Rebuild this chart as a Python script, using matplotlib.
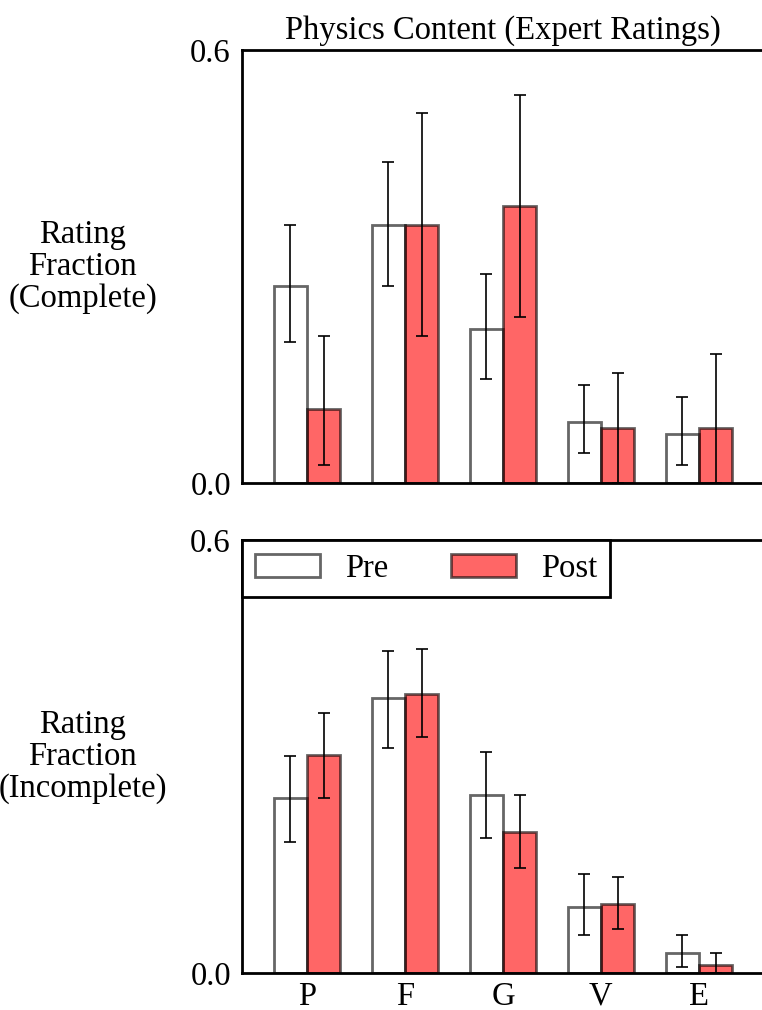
import numpy as np
import matplotlib
matplotlib.use("Agg")
import matplotlib.pyplot as plt

plt.rcParams['font.family'] = ['Liberation Serif', 'DejaVu Serif']
plt.rcParams['font.size'] = 23.5

categories = ["P", "F", "G", "V", "E"]

# complete responses: fraction, lower / upper bound of the interval
complete_pre = [0.273, 0.358, 0.213, 0.085, 0.068]
complete_pre_lo = [0.196, 0.273, 0.144, 0.042, 0.025]
complete_pre_hi = [0.358, 0.445, 0.290, 0.136, 0.119]
complete_post = [0.102, 0.358, 0.384, 0.076, 0.076]
complete_post_lo = [0.025, 0.204, 0.230, 0.0, 0.0]
complete_post_hi = [0.204, 0.513, 0.538, 0.153, 0.179]

# incomplete responses
incomplete_pre = [0.242, 0.381, 0.247, 0.092, 0.028]
incomplete_pre_lo = [0.182, 0.312, 0.187, 0.053, 0.008]
incomplete_pre_hi = [0.301, 0.446, 0.306, 0.137, 0.053]
incomplete_post = [0.302, 0.386, 0.196, 0.096, 0.011]
incomplete_post_lo = [0.243, 0.327, 0.146, 0.061, 0.0]
incomplete_post_hi = [0.361, 0.449, 0.247, 0.133, 0.028]

width = 0.34
x = np.arange(len(categories))


def draw_bars(ax, vals, lo, hi, pos, color, label):
    vals = np.array(vals)
    yerr = [vals - np.array(lo), np.array(hi) - vals]
    ax.bar(pos, vals, width, color=color, edgecolor='black', linewidth=2,
           alpha=0.6, label=label)
    ax.errorbar(pos, vals, yerr=yerr, fmt='none', ecolor='black',
                elinewidth=1.2, capsize=4.5, capthick=1.2)


def style_axes(ax, ylabel):
    ax.set_xlim(-0.665, 4.665)
    ax.set_ylim(0, 0.6)
    ax.set_yticks([0.0, 0.6])
    ax.set_yticklabels(["0.0", "0.6"])
    ax.set_xticks(x)
    ax.tick_params(axis='y', length=0, pad=8)
    ax.tick_params(axis='x', length=0, pad=6)
    for s in ['left', 'top', 'bottom']:
        ax.spines[s].set_linewidth(2)
    ax.spines['right'].set_visible(False)
    ax.set_ylabel(ylabel, rotation=0, ha='center', va='center', labelpad=0,
                  linespacing=1.05)
    ax.yaxis.set_label_coords(-0.305, 0.5)


fig = plt.figure(figsize=(7.62, 10.1), dpi=100)
ax1 = fig.add_axes([0.3176, 0.5218, 0.685, 0.4287])
ax2 = fig.add_axes([0.3176, 0.0366, 0.685, 0.4287])

draw_bars(ax1, complete_pre, complete_pre_lo, complete_pre_hi, x - width / 2, 'white', 'Pre')
draw_bars(ax1, complete_post, complete_post_lo, complete_post_hi, x + width / 2, 'red', 'Post')
style_axes(ax1, "Rating\nFraction\n(Complete)")
ax1.set_xticklabels([])
ax1.set_title("Physics Content (Expert Ratings)", fontsize=23.5, pad=8)

draw_bars(ax2, incomplete_pre, incomplete_pre_lo, incomplete_pre_hi, x - width / 2, 'white', 'Pre')
draw_bars(ax2, incomplete_post, incomplete_post_lo, incomplete_post_hi, x + width / 2, 'red', 'Post')
style_axes(ax2, "Rating\nFraction\n(Incomplete)")
ax2.set_xticklabels(categories)

leg = ax2.legend(loc='upper left', ncol=2, borderaxespad=0, fancybox=False,
                 framealpha=1, edgecolor='black', handlelength=2.0,
                 handleheight=0.7, columnspacing=1.9, handletextpad=0.77,
                 borderpad=0.4)
leg.get_frame().set_linewidth(2)

fig.savefig("out.png", dpi=100)
